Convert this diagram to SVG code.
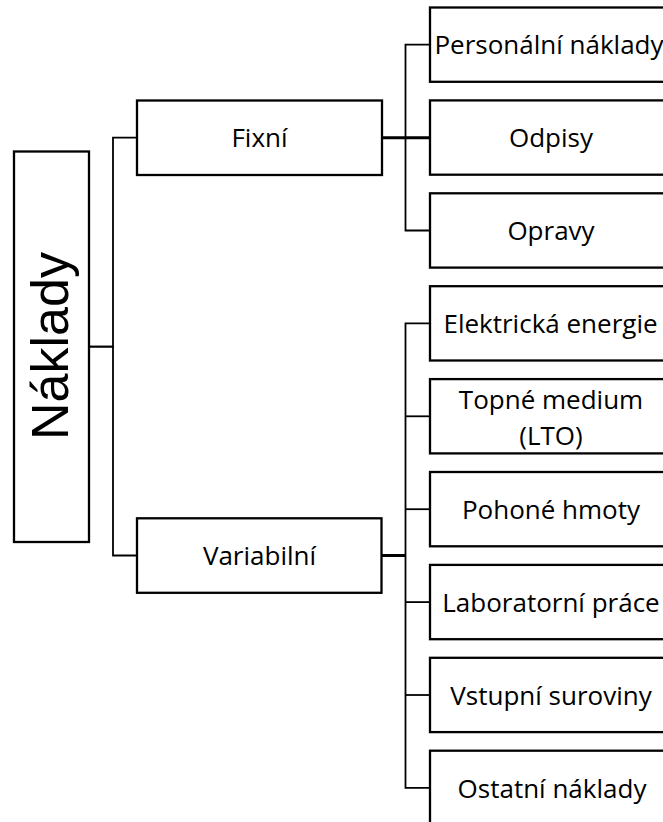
<svg xmlns="http://www.w3.org/2000/svg" width="663" height="822" viewBox="0 0 663 822">
  <style>
    .box { fill: #ffffff; stroke: #000000; stroke-width: 2.3; }
    .lbl { font-family: "Open Sans", "Liberation Sans", sans-serif; font-size: 26px; fill: #000000; text-anchor: middle; }
    .root { font-family: "Liberation Sans", Arial, sans-serif; font-size: 52px; fill: #000000; text-anchor: middle; }
    .wire { fill: none; stroke: #000000; stroke-width: 1.8; }
    .trunk { fill: none; stroke: #000000; stroke-width: 3; }
  </style>
  <rect width="663" height="822" fill="#ffffff"/>

  <!-- connectors -->
  <g id="connectors">
    <!-- root to level 1 -->
    <path class="wire" d="M89 346.7 H113 V137.7 H137"/>
    <path class="wire" d="M89 346.7 H113 V555.5 H137"/>
    <!-- Fixní branch -->
    <path class="trunk" d="M382 137.7 H430"/>
    <path class="wire" d="M405.5 137.7 V44.7 H430"/>
    <path class="wire" d="M405.5 137.7 V230.5 H430"/>
    <!-- Variabilní branch -->
    <path class="trunk" d="M381.5 555.5 H405.5"/>
    <path class="wire" d="M430 323.4 H405.5 V787.9 H430"/>
    <path class="wire" d="M405.5 416.3 H430"/>
    <path class="wire" d="M405.5 509.2 H430"/>
    <path class="wire" d="M405.5 602.1 H430"/>
    <path class="wire" d="M405.5 695 H430"/>
  </g>

  <!-- root -->
  <g id="naklady">
    <rect class="box" x="14" y="151.5" width="75" height="390.5"/>
    <text class="root" transform="translate(68 346) rotate(-90)" x="0" y="0">Náklady</text>
  </g>

  <!-- level 1 -->
  <g id="fixni">
    <rect class="box" x="137" y="100.5" width="245" height="74.5"/>
    <text class="lbl" x="259.5" y="147">Fixní</text>
  </g>
  <g id="variabilni">
    <rect class="box" x="137" y="518.3" width="244.5" height="74.5"/>
    <text class="lbl" x="259.5" y="565">Variabilní</text>
  </g>

  <!-- level 2: fixed costs -->
  <g id="personalni">
    <rect class="box" x="430" y="7.5" width="244" height="74.3"/>
    <text class="lbl" x="549" y="54">Personální náklady</text>
  </g>
  <g id="odpisy">
    <rect class="box" x="430" y="100.4" width="244" height="74.3"/>
    <text class="lbl" x="551" y="147">Odpisy</text>
  </g>
  <g id="opravy">
    <rect class="box" x="430" y="193.3" width="244" height="74.3"/>
    <text class="lbl" x="551" y="240">Opravy</text>
  </g>

  <!-- level 2: variable costs -->
  <g id="elektricka">
    <rect class="box" x="430" y="286.2" width="244" height="74.3"/>
    <text class="lbl" x="550.5" y="333">Elektrická energie</text>
  </g>
  <g id="topne">
    <rect class="box" x="430" y="379.1" width="244" height="74.3"/>
    <text class="lbl" x="551" y="408.5">Topné medium</text>
    <text class="lbl" x="551" y="445">(LTO)</text>
  </g>
  <g id="pohone">
    <rect class="box" x="430" y="472" width="244" height="74.3"/>
    <text class="lbl" x="551" y="518.5">Pohoné hmoty</text>
  </g>
  <g id="laboratorni">
    <rect class="box" x="430" y="564.9" width="244" height="74.3"/>
    <text class="lbl" x="551" y="611.5">Laboratorní práce</text>
  </g>
  <g id="vstupni">
    <rect class="box" x="430" y="657.8" width="244" height="74.3"/>
    <text class="lbl" x="551" y="704.5">Vstupní suroviny</text>
  </g>
  <g id="ostatni">
    <rect class="box" x="430" y="750.7" width="244" height="74.3"/>
    <text class="lbl" x="552" y="797.5">Ostatní náklady</text>
  </g>
</svg>
